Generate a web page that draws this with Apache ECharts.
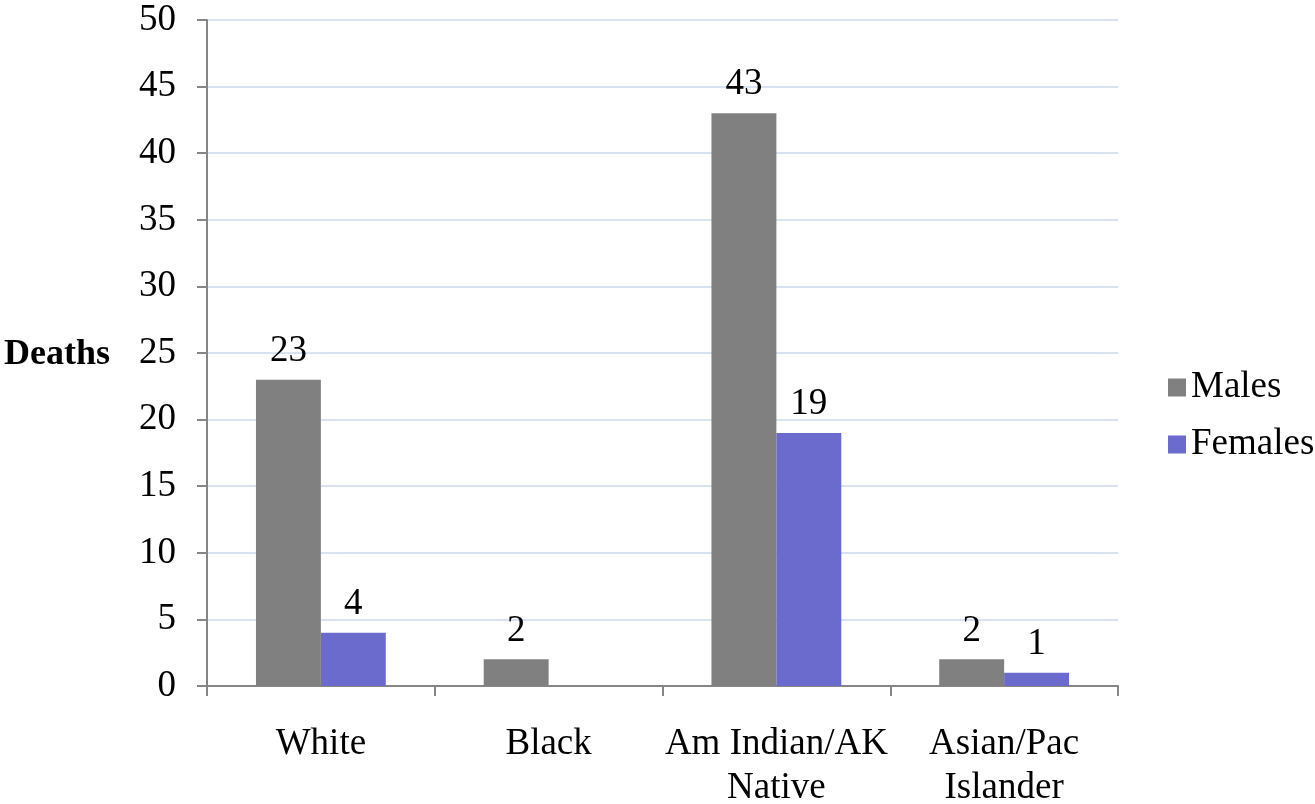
<!DOCTYPE html>
<html>
<head>
<meta charset="utf-8">
<script src="https://cdn.jsdelivr.net/npm/echarts@6/dist/echarts.min.js"></script>
<style>html,body{margin:0;padding:0;background:#fff;}#c{width:1315px;height:804px;}</style>
</head>
<body>
<div id="c"></div>
<script>
const categories = ['White', 'Black', 'Am Indian/AK\nNative', 'Asian/Pac\nIslander'];
const males = [23, 2, 43, 2];
const females = [4, null, 19, 1];
const yTicks = { min: 0, max: 50, interval: 5 };

const FONT = '"Liberation Serif", "Times New Roman", serif';
const FS = 37;
const chart = echarts.init(document.getElementById('c'));
chart.setOption({
  animation: false,
  backgroundColor: '#ffffff',
  grid: { left: 207, right: 197, top: 20, bottom: 118, containLabel: false, outerBoundsMode: 'none' },
  legend: {
    orient: 'vertical',
    left: 1163,
    top: 364,
    itemWidth: 18,
    itemHeight: 18,
    itemGap: 20,
    icon: 'rect',
    textStyle: { fontFamily: FONT, fontSize: FS, color: '#000' },
    data: ['Males', 'Females']
  },
  graphic: [{
    type: 'text', left: 4, top: 337,
    style: { text: 'Deaths', font: 'bold 36px ' + FONT, fill: '#000' }
  }],
  xAxis: {
    type: 'category',
    data: categories,
    axisLine: { lineStyle: { color: '#868686', width: 2 } },
    axisTick: { show: true, length: 10, lineStyle: { color: '#868686', width: 2 } },
    axisLabel: { interval: 0, fontFamily: FONT, fontSize: FS, color: '#000', margin: 36, lineHeight: 44 }
  },
  yAxis: {
    type: 'value',
    min: yTicks.min, max: yTicks.max, interval: yTicks.interval,
    axisLine: { show: true, lineStyle: { color: '#868686', width: 2 } },
    axisTick: { show: true, length: 10, lineStyle: { color: '#868686', width: 2 } },
    axisLabel: { fontFamily: FONT, fontSize: FS, color: '#000', margin: 31 },
    splitLine: { lineStyle: { color: '#d9e2f0', width: 2 } }
  },
  series: [
    {
      name: 'Males', type: 'bar', data: males,
      barGap: '0%', barCategoryGap: '43%',
      itemStyle: { color: '#808080' },
      label: { show: true, position: 'top', distance: 10, fontFamily: FONT, fontSize: FS, color: '#000' }
    },
    {
      name: 'Females', type: 'bar', data: females,
      itemStyle: { color: '#6b6bcd' },
      label: { show: true, position: 'top', distance: 10, fontFamily: FONT, fontSize: FS, color: '#000' }
    }
  ]
});
</script>
</body>
</html>
